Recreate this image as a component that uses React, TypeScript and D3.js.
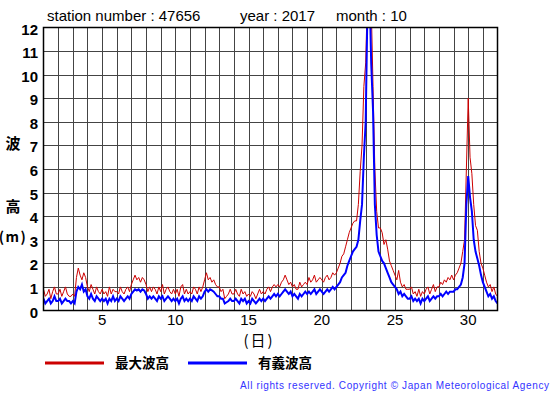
import React from 'react';
import * as d3 from 'd3';

// 3-hourly readings from 1 Oct 00:00, eight per day, plus the final point
const sigWave = [
  0.5, 0.3, 0.4, 0.5, 0.3, 0.4, 0.6, 0.4,
  0.4, 0.5, 0.3, 0.4, 0.5, 0.4, 0.4, 0.3,
  0.4, 0.3, 0.8, 1.0, 0.9, 1.1, 0.8, 0.9,
  0.6, 0.5, 0.7, 0.5, 0.4, 0.6, 0.5, 0.4,
  0.5, 0.4, 0.5, 0.3, 0.5, 0.4, 0.6, 0.4,
  0.5, 0.4, 0.6, 0.5, 0.4, 0.5, 0.6, 0.5,
  0.7, 0.8, 0.9, 0.85, 0.9, 0.8, 0.9, 0.85,
  0.7, 0.5, 0.6, 0.5, 0.6, 0.5, 0.4, 0.6,
  0.5, 0.6, 0.4, 0.5, 0.6, 0.5, 0.4, 0.5,
  0.4, 0.5, 0.3, 0.5, 0.6, 0.4, 0.5, 0.4,
  0.5, 0.4, 0.6, 0.5, 0.4, 0.6, 0.5, 0.6,
  0.8, 0.9, 0.8, 0.9, 0.85, 0.8, 0.7, 0.6,
  0.6, 0.5, 0.5, 0.3, 0.35, 0.4, 0.5, 0.4,
  0.4, 0.5, 0.4, 0.3, 0.5, 0.4, 0.5, 0.3,
  0.4, 0.3, 0.5, 0.4, 0.3, 0.4, 0.5, 0.4,
  0.5, 0.4, 0.5, 0.6, 0.5, 0.6, 0.7, 0.6,
  0.7, 0.6, 0.7, 0.8, 0.9, 0.8, 0.7, 0.8,
  0.6, 0.7, 0.6, 0.5, 0.7, 0.6, 0.7, 0.8,
  0.7, 0.8, 0.7, 0.8, 0.9, 0.7, 0.8, 0.9,
  0.8, 0.7, 0.8, 0.9, 0.8, 0.9, 1.0, 0.9,
  1.0, 1.1, 1.2, 1.4, 1.5, 1.6, 1.9, 2.1,
  2.3, 2.5, 2.6, 2.7, 3.0, 3.8, 4.5, 6.5,
  8.0, 13.0, 14.0, 10.5, 8.5, 4.5, 3.2, 2.5,
  2.3, 2.1, 2.0, 1.8, 1.6, 1.4, 1.2, 1.1,
  1.0, 0.9, 0.7, 0.8, 0.6, 0.7, 0.6, 0.5,
  0.5, 0.6, 0.4, 0.5, 0.4, 0.5, 0.3, 0.5,
  0.4, 0.5, 0.6, 0.4, 0.5, 0.6, 0.5, 0.6,
  0.6, 0.7, 0.6, 0.7, 0.8, 0.7, 0.8, 0.8,
  0.8, 0.9, 0.9, 1.0, 1.1, 1.4, 2.0, 4.5,
  5.7, 4.8, 4.2, 3.0, 2.5, 2.2, 1.9, 1.5,
  1.2, 1.0, 0.8, 0.6, 0.7, 0.5, 0.6, 0.4,
  0.3,
];

const maxWave = [
  0.9, 0.6, 0.7, 0.9, 0.5, 0.8, 1.0, 0.7,
  0.7, 0.9, 0.6, 0.8, 1.0, 0.7, 0.6, 0.6,
  0.7, 0.6, 1.4, 1.8, 1.5, 1.3, 1.6, 1.4,
  1.0, 0.8, 1.1, 0.9, 0.7, 1.0, 0.8, 0.7,
  0.9, 0.7, 0.8, 0.6, 1.0, 0.7, 0.9, 0.8,
  0.8, 0.7, 1.0, 0.8, 0.7, 0.9, 1.0, 0.8,
  1.1, 1.3, 1.5, 1.3, 1.4, 1.2, 1.4, 1.3,
  1.1, 0.8, 1.0, 0.8, 1.0, 0.9, 0.7, 1.0,
  0.8, 1.1, 0.7, 0.9, 1.0, 0.8, 0.7, 0.9,
  0.7, 0.9, 0.6, 1.0, 1.1, 0.7, 0.9, 0.7,
  0.8, 0.7, 1.0, 0.9, 0.7, 1.0, 0.8, 1.0,
  1.3, 1.6, 1.3, 1.4, 1.2, 1.3, 1.1, 1.0,
  1.0, 0.8, 0.9, 0.5, 0.6, 0.7, 0.9, 0.7,
  0.7, 0.9, 0.7, 0.6, 0.9, 0.7, 0.8, 0.6,
  0.7, 0.6, 0.8, 0.7, 0.5, 0.7, 0.9, 0.7,
  0.8, 0.7, 0.9, 1.0, 0.8, 1.0, 1.1, 1.0,
  1.1, 1.0, 1.2, 1.3, 1.5, 1.3, 1.1, 1.2,
  1.0, 1.1, 0.9, 0.9, 1.2, 1.0, 1.1, 1.2,
  1.1, 1.4, 1.2, 1.3, 1.5, 1.2, 1.3, 1.4,
  1.3, 1.2, 1.4, 1.5, 1.3, 1.4, 1.6, 1.5,
  1.6, 1.8, 2.0, 2.3, 2.4, 2.7, 3.0, 3.3,
  3.5, 3.7, 3.8, 3.8, 4.5, 5.9, 7.0, 9.5,
  10.5, 13.5, 15.0, 13.0, 9.5, 6.0, 4.2, 3.5,
  3.5, 3.3, 2.8, 3.0, 2.6, 2.1, 1.9, 1.7,
  1.5, 1.3, 1.7, 1.2, 1.0, 1.1, 0.9, 0.9,
  0.9, 1.0, 0.7, 0.8, 0.6, 0.9, 0.6, 0.8,
  0.7, 0.9, 1.0, 0.7, 0.9, 1.1, 0.8, 1.0,
  1.0, 1.2, 1.1, 1.3, 1.2, 1.4, 1.3, 1.5,
  1.3, 1.5, 1.6, 1.8, 2.0, 2.5, 3.0, 6.0,
  9.0, 6.5, 5.8, 4.5, 3.6, 3.4, 2.5, 2.0,
  1.8, 1.5, 1.2, 1.0, 1.1, 0.8, 1.0, 0.7,
  0.6,
];

const dayTicks = [5, 10, 15, 20, 25, 30];
const heightTicks = [0, 1, 2, 3, 4, 5, 6, 7, 8, 9, 10, 11, 12];
const legendItems = [
  { label: '最大波高', color: '#cc0000' },
  { label: '有義波高', color: '#0000ff' },
];

const W = 555;
const H = 395;
const left = 43.5;
const right = 497.5;
const top = 27.5;
const bottom = 310.5;

export default function App() {
  const x = d3.scaleLinear().domain([1, 32]).range([left, right]);
  const y = d3.scaleLinear().domain([0, 12]).range([bottom, top]);
  const t = (i: number) => 1 + i / 8;

  const line = d3
    .line<number>()
    .x((_, i) => x(t(i)))
    .y((d) => y(d));

  const days = d3.range(2, 32);
  const sans = 'Liberation Sans, Arial, sans-serif';
  const cjk = '"Noto Sans CJK JP", sans-serif';

  return (
    <svg
      width={W}
      height={H}
      style={{ position: 'absolute', left: 0, top: 0, background: '#fff' }}
    >
      <defs>
        <clipPath id="plot">
          <rect x={left} y={top} width={right - left} height={bottom - top} />
        </clipPath>
      </defs>
      <text x={47} y={21} fontFamily={sans} fontSize={15} fill="#000">
        station number : 47656
      </text>
      <text x={240} y={21} fontFamily={sans} fontSize={15} fill="#000">
        year : 2017
      </text>
      <text x={336} y={21} fontFamily={sans} fontSize={15} fill="#000">
        month : 10
      </text>

      {/* grid */}
      <g stroke="#444" strokeWidth={1}>
        {days.map((d) => (
          <line key={'v' + d} x1={Math.round(x(d)) + 0.5} x2={Math.round(x(d)) + 0.5} y1={top} y2={bottom} />
        ))}
        {heightTicks.slice(1, -1).map((h) => (
          <line key={'h' + h} x1={left} x2={right} y1={Math.round(y(h)) + 0.5} y2={Math.round(y(h)) + 0.5} />
        ))}
      </g>

      <g clipPath="url(#plot)" fill="none">
        <path d={line(maxWave) || ''} stroke="#cc0000" strokeWidth={1} />
        <path d={line(sigWave) || ''} stroke="#0000ff" strokeWidth={2} />
      </g>

      <rect x={left} y={top} width={right - left} height={bottom - top} fill="none" stroke="#000" strokeWidth={1.5} />

      {/* y axis */}
      {heightTicks.map((h) => (
        <text key={'yl' + h} x={38} y={y(h) + 7} textAnchor="end" fontFamily={sans} fontWeight="bold" fontSize={15}>
          {h}
        </text>
      ))}
      <text x={13} y={149} textAnchor="middle" fontFamily={cjk} fontWeight="bold" fontSize={15}>波</text>
      <text x={13} y={212} textAnchor="middle" fontFamily={cjk} fontWeight="bold" fontSize={15}>高</text>
      <text x={13} y={242} textAnchor="middle" fontFamily={cjk} fontWeight="bold" fontSize={14} letterSpacing={1.5}>(m)</text>

      {/* x axis */}
      {dayTicks.map((d) => (
        <text key={'xl' + d} x={x(d)} y={325} textAnchor="middle" fontFamily={sans} fontSize={15}>
          {d}
        </text>
      ))}
      <text x={259} y={346} textAnchor="middle" fontFamily={cjk} fontSize={15} letterSpacing={2}>(日)</text>

      {/* legend */}
      {legendItems.map((item, i) => (
        <g key={item.label} transform={`translate(${45 + i * 143},363)`}>
          <line x1={0} x2={59} y1={0} y2={0} stroke={item.color} strokeWidth={3} />
          <text x={70} y={5} fontFamily={cjk} fontWeight="bold" fontSize={13.5}>
            {item.label}
          </text>
        </g>
      ))}

      <text
        x={240}
        y={389}
        fontFamily={sans}
        fontSize={10}
        fill="#3333ff"
        textLength={309}
        lengthAdjust="spacing"
      >
        All rights reserved. Copyright © Japan Meteorological Agency
      </text>
    </svg>
  );
}
